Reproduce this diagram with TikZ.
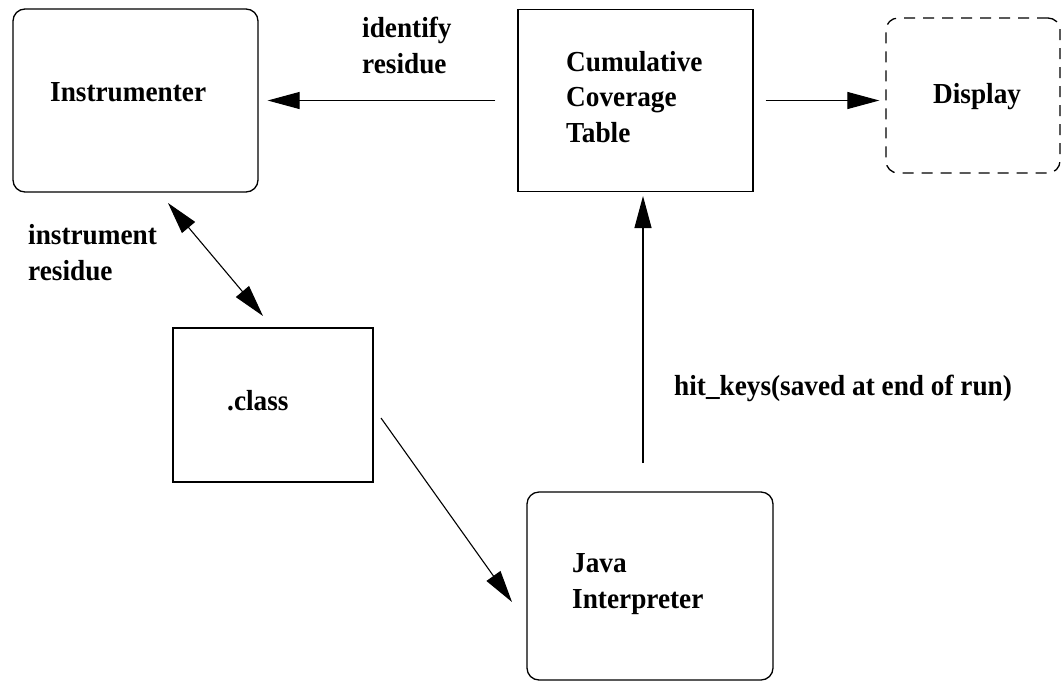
\documentclass[tikz,border=0pt]{standalone}
\usepackage{fontspec}
\setmainfont{Liberation Serif}[FakeStretch=0.94]
\usetikzlibrary{arrows.meta}
\begin{document}
\begin{tikzpicture}[x=1pt,y=-1pt,
  box/.style={draw, line width=1.3pt, inner sep=0pt},
  rbox/.style={box, rounded corners=12pt},
  dbox/.style={rbox, dash pattern=on 11pt off 8pt},
  lbl/.style={anchor=base west, inner sep=0pt, align=left,
    font=\fontsize{29}{35.5}\selectfont\bfseries},
  conn/.style={line width=1.1pt, -{Triangle[length=32pt,width=17pt]}},
  dconn/.style={line width=1.1pt, {Triangle[length=32pt,width=17pt]}-{Triangle[length=32pt,width=17pt]}},
]
\useasboundingbox (0,0) rectangle (1062,681);
% boxes
\node[rbox, minimum width=245pt, minimum height=183pt] (instr) at (135.5,100.5) {};
\node[box, minimum width=235pt, minimum height=182pt] (cct) at (635.5,100.5) {};
\node[dbox, minimum width=174pt, minimum height=155pt] (disp) at (973,95.5) {};
\node[box, minimum width=200pt, minimum height=154pt] (cls) at (273,405) {};
\node[rbox, minimum width=246pt, minimum height=188pt] (java) at (650,586) {};
% labels (multi-line labels: base = last line's baseline)
\node[lbl] (tinstr) at (50,101) {Instrumenter};
\node[lbl] (tcct) at (566,142) {Cumulative\\Coverage\\Table};
\node[lbl] (tdisp) at (933,103) {Display};
\node[lbl] (tcls) at (227,410) {.class};
\node[lbl] (tjava) at (572,608) {Java\\Interpreter};
\node[lbl] (tid) at (362,73) {identify\\residue};
\node[lbl] (tinst) at (28,280) {instrument\\residue};
\node[lbl] (thit) at (674,395) {hit\_keys(saved at end of run)};
% connector end points
\coordinate (a1) at ([xshift=-22pt]cct.west);
\coordinate (a2) at ([xshift=9pt]instr.east);
\coordinate (b1) at ([xshift=12pt]cct.east);
\coordinate (b2) at ([xshift=-6pt]disp.west |- cct.east);
\coordinate (c1) at (643,463);
\coordinate (c2) at (643,196);
\coordinate (d1) at (168,203);
\coordinate (d2) at (263,316);
\coordinate (e1) at (381,418);
\coordinate (e2) at (512,602);
% connectors
\draw[conn] (a1) -- (a2);
\draw[conn] (b1) -- (b2);
\draw[conn] (c1) -- (c2);
\draw[dconn] (d1) -- (d2);
\draw[conn] (e1) -- (e2);
\end{tikzpicture}
\end{document}
